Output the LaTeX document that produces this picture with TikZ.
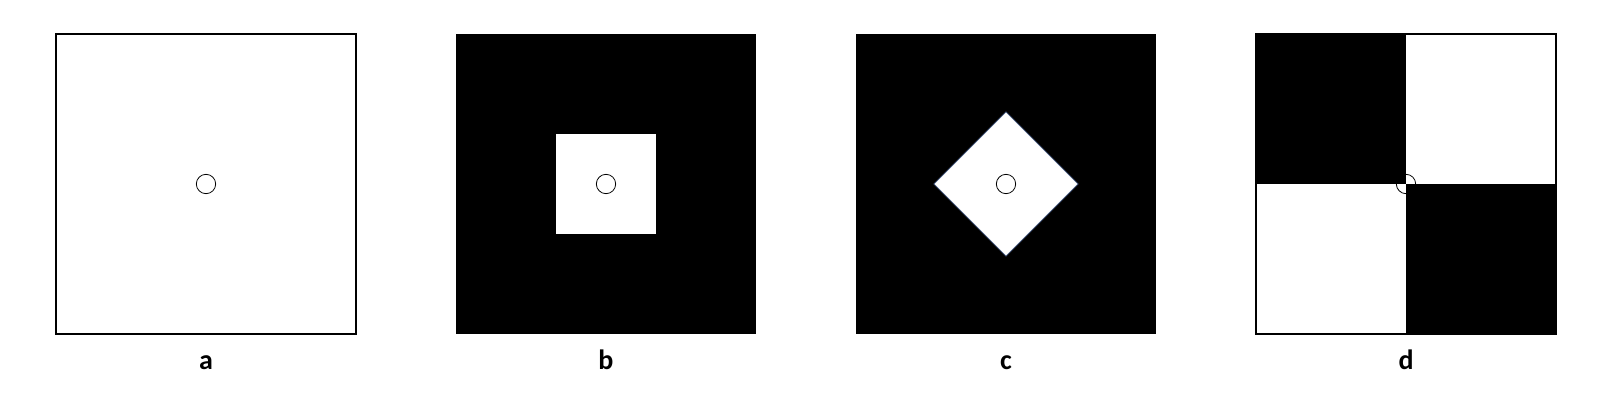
\documentclass[tikz,border=0pt]{standalone}
\usepackage{fontspec}
\setmainfont{Carlito}
\usetikzlibrary{positioning}
\definecolor{diamondedge}{RGB}{70,90,130}

\begin{document}
\begin{tikzpicture}[
		panel/.style={rectangle, minimum size=225pt, inner sep=0pt, outer sep=0pt},
		framed panel/.style={panel, draw, line width=1.5pt},
		black panel/.style={panel, fill=black},
		hole/.style={rectangle, fill=white, minimum size=75pt, inner sep=0pt},
		marker/.style={circle, draw, line width=0.6pt, minimum size=14.5pt, inner sep=0pt},
		caption/.style={font=\fontsize{21}{25}\selectfont\bfseries, inner sep=0pt}
		]
		\useasboundingbox (0,0) rectangle (1218pt,306pt);
		
		\node[framed panel] (pa) at (154.5pt,168pt) {};
		\node[black panel] (pb) [right=75pt of pa] {};
		\node[black panel] (pc) [right=75pt of pb] {};
		\node[framed panel] (pd) [right=75pt of pc] {};
		
		\node[hole] (hb) at (pb) {};
		\node[hole, minimum size=76.5pt, rotate=45, draw=diamondedge, line width=0.6pt] (hc) at (pc) {};
		
		\node[marker] (ma) at (pa) {};
		\node[marker] (mb) at (hb) {};
		\node[marker] (mc) at (hc) {};
		\node[marker] (md) at (pd) {};
		
		\fill (pd.north west) rectangle (pd.center);
		\fill (pd.center) rectangle (pd.south east);
		
		\node[caption] (la) [below=26.25pt of pa, anchor=base] {a};
		\node[caption] (lb) [below=26.25pt of pb, anchor=base] {b};
		\node[caption] (lc) [below=26.25pt of pc, anchor=base] {c};
		\node[caption] (ld) [below=26.25pt of pd, anchor=base] {d};
	\end{tikzpicture}
\end{document}
